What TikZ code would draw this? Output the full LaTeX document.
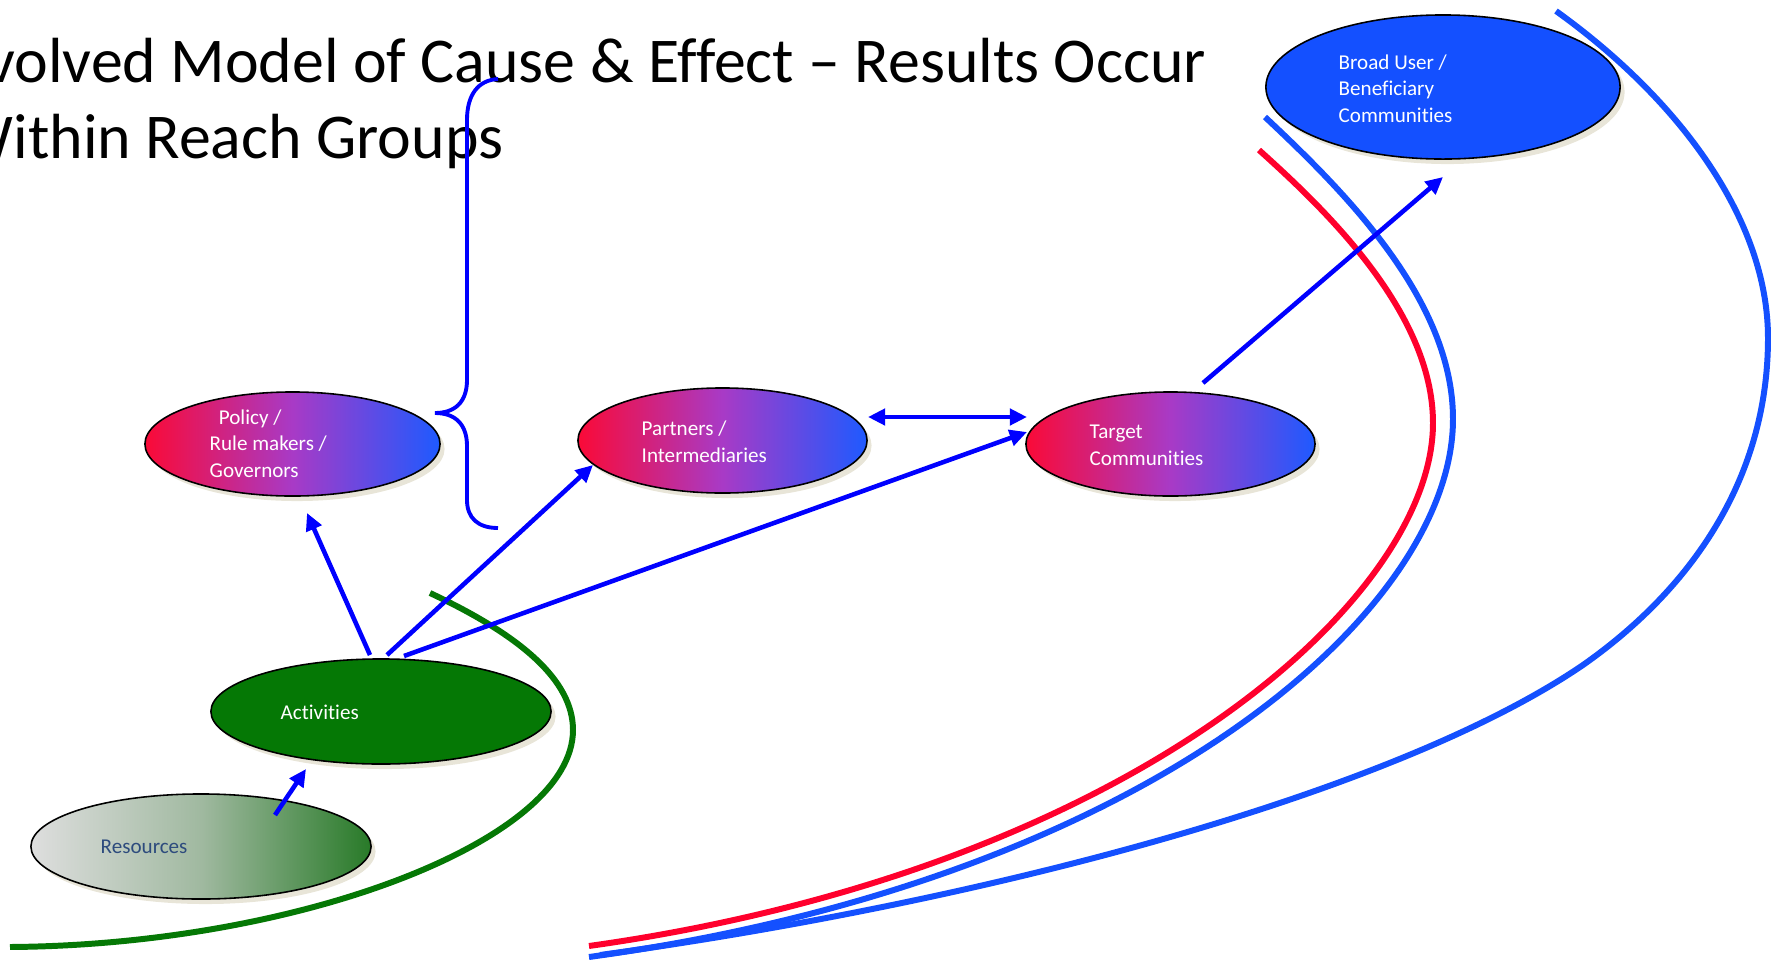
\documentclass[tikz,border=0pt]{standalone}
\usepackage{fontspec}
\setmainfont{Carlito}[Ligatures={TeX,NoCommon}]
\usetikzlibrary{shapes.geometric,arrows.meta,shadows}

\definecolor{arrowblue}{RGB}{0,0,255}
\definecolor{reachred}{RGB}{255,0,45}
\definecolor{reachblue}{RGB}{20,80,255}
\definecolor{reachgreen}{RGB}{5,120,5}
\definecolor{gradred}{RGB}{250,10,55}
\definecolor{gradmid}{RGB}{168,58,198}
\definecolor{gradblue}{RGB}{30,90,255}
\definecolor{shadowbeige}{RGB}{232,229,216}
\definecolor{resgrey}{RGB}{222,222,222}
\definecolor{resmid}{RGB}{160,185,160}
\definecolor{resgreen}{RGB}{40,122,40}
\definecolor{restext}{RGB}{45,75,125}

\tikzset{
  group/.style={ellipse, draw=black, line width=0.45pt, inner sep=0pt,
    drop shadow={shadow xshift=0.045cm, shadow yshift=-0.05cm, fill=shadowbeige, opacity=1}},
  reach/.style={group, left color=gradred, right color=gradblue, middle color=gradmid},
  % multi-line texts are placed by the baseline of their last line
  grouptext/.style={anchor=base west, align=left, inner sep=0pt, text=white,
    font=\fontsize{6}{7.4}\selectfont},
  flow/.style={draw=arrowblue, line width=1.3pt, -{Triangle[length=4.9pt,width=4.6pt]}},
  band/.style={line width=1.7pt},
}

\begin{document}
\begin{tikzpicture}[x=0.01cm, y=-0.01cm]
\useasboundingbox (0,0) rectangle (1771,960);
\clip (0,0) rectangle (1771,960);

% title
\node[anchor=base west, align=left, inner sep=0pt, font=\fontsize{18.15}{21.6}\selectfont]
  (title) at (-44,158) {Evolved Model of Cause \& Effect – Results Occur\\Within Reach Groups};

% reach groups
\node[reach, minimum width=2.95cm, minimum height=1.04cm] (pol) at (292.5,444) {};
\node[reach, minimum width=2.89cm, minimum height=1.05cm] (par) at (722.5,440.5) {};
\node[reach, minimum width=2.89cm, minimum height=1.04cm] (tgt) at (1170.5,444) {};
\node[group, fill=reachblue, minimum width=3.54cm, minimum height=1.44cm] (brd) at (1443,87) {};
\node[group, fill=reachgreen, minimum width=3.40cm, minimum height=1.05cm] (act) at (381,711.5) {};
\node[group, left color=resgrey, right color=resgreen, middle color=resmid,
  minimum width=3.40cm, minimum height=1.05cm] (res) at (201,846.5) {};

\node[grouptext] (polT) at (209,477) {\hspace*{2.6pt}Policy /\\Rule makers /\\Governors};
\node[grouptext] (parT) at (641,462) {Partners /\\Intermediaries};
\node[grouptext] (tgtT) at (1089,465) {Target\\Communities};
\node[grouptext] (brdT) at (1338,122) {Broad User /\\Beneficiary\\Communities};
\node[grouptext] (actT) at (280,719) {Activities};
\node[grouptext, text=restext] (resT) at (100,853) {Resources};

% spheres of influence
\draw[band, reachgreen] (430,593) .. controls (520,635) and (573,680) .. (573,730)
  .. controls (573,840) and (300,945) .. (10,947);
\draw[band, reachred] (1259,150) .. controls (1320,205) and (1433,310) .. (1433,423)
  .. controls (1433,600) and (1130,870) .. (589,946);
\draw[band, reachblue] (1265,117) .. controls (1345,192) and (1453,300) .. (1453,419)
  .. controls (1453,610) and (1150,880) .. (589,957);
\draw[band, reachblue] (1556,11) .. controls (1680,100) and (1768,220) .. (1768,338)
  .. controls (1768,480) and (1690,590) .. (1583,665)
  .. controls (1400,790) and (1000,900) .. (600,955);

% brace grouping the reach groups
\draw[arrowblue, line width=1.1pt] (498,79) .. controls (478,80) and (467,95) .. (467,120)
  -- (467,380) .. controls (467,402) and (455,413) .. (435,413)
  .. controls (455,413) and (467,424) .. (467,446)
  -- (467,500) .. controls (467,518) and (478,528) .. (498,528);

% cause and effect links
\draw[flow] ([shift={(74,-31.5)}]res.center) -- ([shift={(-75,57.5)}]act.center);
\draw[flow] ([shift={(-11,-56.5)}]act.center) -- ([shift={(14.5,69)}]pol.center);
\draw[flow] ([shift={(6,-56.5)}]act.center) -- ([shift={(-129.5,24.5)}]par.center);
\draw[flow] ([shift={(23,-55.5)}]act.center) -- ([shift={(-143.5,-12)}]tgt.center);
\draw[flow, {Triangle[length=4.9pt,width=4.6pt]}-{Triangle[length=4.9pt,width=4.6pt]}]
  ([shift={(145.5,-23.5)}]par.center) -- ([shift={(-143.5,-27)}]tgt.center);
\draw[flow] ([shift={(32.5,-61)}]tgt.center) -- ([shift={(0,90)}]brd.center);
\end{tikzpicture}
\end{document}
